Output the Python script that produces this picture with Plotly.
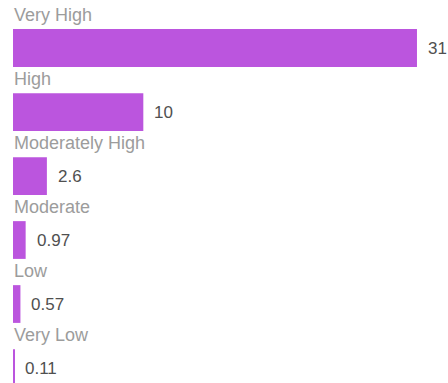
import plotly.graph_objects as go

categories = ["Very High", "High", "Moderately High", "Moderate", "Low", "Very Low"]
values = [31, 10, 2.6, 0.97, 0.57, 0.11]
value_labels = ["31", "10", "2.6", "0.97", "0.57", "0.11"]

BAR_COLOR = "#bb55de"
LABEL_COLOR = "#9c9c9c"
VALUE_COLOR = "#505050"
FONT = "Liberation Sans, Arial, sans-serif"

positions = list(range(len(categories)))

fig = go.Figure(
    go.Bar(
        x=values,
        y=positions,
        orientation="h",
        width=0.59,
        marker=dict(color=BAR_COLOR, line=dict(width=0)),
        hoverinfo="skip",
    )
)

annotations = []
for pos, cat, val, lab in zip(positions, categories, values, value_labels):
    # category name sits above its bar
    annotations.append(dict(
        x=0, y=pos - 0.52, xref="x", yref="y", text=cat, showarrow=False,
        xanchor="left", yanchor="middle", xshift=-1,
        font=dict(family=FONT, size=18, color=LABEL_COLOR),
    ))
    # value to the right of the bar end
    annotations.append(dict(
        x=val, y=pos, xref="x", yref="y", text=lab, showarrow=False,
        xanchor="left", yanchor="middle", xshift=9,
        font=dict(family=FONT, size=17, color=VALUE_COLOR),
    ))

fig.update_layout(
    width=448, height=383,
    margin=dict(l=0, r=0, t=0, b=0),
    paper_bgcolor="white", plot_bgcolor="white",
    showlegend=False,
    xaxis=dict(range=[-0.998, 33.38], visible=False, fixedrange=True),
    yaxis=dict(range=[5.234, -0.75], visible=False, fixedrange=True),
    annotations=annotations,
)

fig.write_html("out.html")
